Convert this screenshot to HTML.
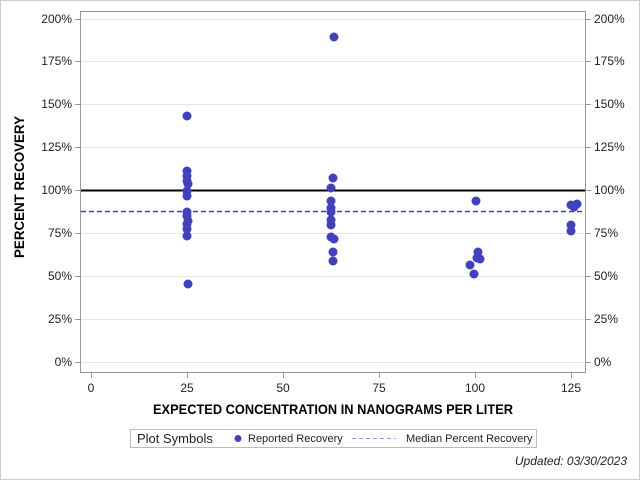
<!DOCTYPE html>
<html><head><style>body{margin:0;background:#fff}svg{display:block;font-family:"Liberation Sans",sans-serif}</style></head><body>
<svg width="640" height="480" viewBox="0 0 640 480">
<rect x="0.5" y="0.5" width="639" height="479" fill="#fff" stroke="#ccc"/>
<g stroke="#e6e6e6" stroke-width="1">
<line x1="81" x2="585" y1="362.5" y2="362.5"/><line x1="81" x2="585" y1="319.5" y2="319.5"/><line x1="81" x2="585" y1="276.5" y2="276.5"/><line x1="81" x2="585" y1="233.5" y2="233.5"/><line x1="81" x2="585" y1="147.5" y2="147.5"/><line x1="81" x2="585" y1="104.5" y2="104.5"/><line x1="81" x2="585" y1="61.5" y2="61.5"/><line x1="81" x2="585" y1="19.5" y2="19.5"/>
</g>
<rect x="80.5" y="11.5" width="505" height="361" fill="none" stroke="#999"/>
<g stroke="#999"><line x1="75" x2="80" y1="362.5" y2="362.5"/><line x1="75" x2="80" y1="319.5" y2="319.5"/><line x1="75" x2="80" y1="276.5" y2="276.5"/><line x1="75" x2="80" y1="233.5" y2="233.5"/><line x1="75" x2="80" y1="190.5" y2="190.5"/><line x1="75" x2="80" y1="147.5" y2="147.5"/><line x1="75" x2="80" y1="104.5" y2="104.5"/><line x1="75" x2="80" y1="61.5" y2="61.5"/><line x1="75" x2="80" y1="19.5" y2="19.5"/>
<line x1="586" x2="591" y1="362.5" y2="362.5"/><line x1="586" x2="591" y1="319.5" y2="319.5"/><line x1="586" x2="591" y1="276.5" y2="276.5"/><line x1="586" x2="591" y1="233.5" y2="233.5"/><line x1="586" x2="591" y1="190.5" y2="190.5"/><line x1="586" x2="591" y1="147.5" y2="147.5"/><line x1="586" x2="591" y1="104.5" y2="104.5"/><line x1="586" x2="591" y1="61.5" y2="61.5"/><line x1="586" x2="591" y1="19.5" y2="19.5"/>
<line x1="91.5" x2="91.5" y1="373" y2="378"/><line x1="187.5" x2="187.5" y1="373" y2="378"/><line x1="283.5" x2="283.5" y1="373" y2="378"/><line x1="379.5" x2="379.5" y1="373" y2="378"/><line x1="475.5" x2="475.5" y1="373" y2="378"/><line x1="571.5" x2="571.5" y1="373" y2="378"/></g>
<g font-size="12" fill="#222" text-anchor="end">
<text x="72" y="366">0%</text><text x="72" y="323">25%</text><text x="72" y="280">50%</text><text x="72" y="237">75%</text><text x="72" y="194">100%</text><text x="72" y="151">125%</text><text x="72" y="108">150%</text><text x="72" y="65">175%</text><text x="72" y="23">200%</text></g>
<g font-size="12" fill="#222">
<text x="594" y="366">0%</text><text x="594" y="323">25%</text><text x="594" y="280">50%</text><text x="594" y="237">75%</text><text x="594" y="194">100%</text><text x="594" y="151">125%</text><text x="594" y="108">150%</text><text x="594" y="65">175%</text><text x="594" y="23">200%</text></g>
<g font-size="12" fill="#222" text-anchor="middle">
<text x="91" y="392">0</text><text x="187" y="392">25</text><text x="283" y="392">50</text><text x="379" y="392">75</text><text x="475" y="392">100</text><text x="571" y="392">125</text></g>
<text x="153" y="414" font-size="14" font-weight="bold" textLength="360" lengthAdjust="spacingAndGlyphs">EXPECTED CONCENTRATION IN NANOGRAMS PER LITER</text>
<text transform="translate(24,258) rotate(-90)" font-size="14" font-weight="bold" textLength="142" lengthAdjust="spacingAndGlyphs">PERCENT RECOVERY</text>
<line x1="81" x2="585" y1="190.5" y2="190.5" stroke="#000" stroke-width="2"/>
<line x1="81" x2="585" y1="211.5" y2="211.5" stroke="#3d3dbf" stroke-width="1.5" stroke-dasharray="5,3"/>
<g fill="#4040c0">
<circle cx="187" cy="116" r="4.5"/><circle cx="187" cy="171" r="4.5"/><circle cx="187" cy="176" r="4.5"/><circle cx="187" cy="181" r="4.5"/><circle cx="188" cy="184" r="4.5"/><circle cx="187" cy="191" r="4.5"/><circle cx="187" cy="196" r="4.5"/><circle cx="187" cy="212" r="4.5"/><circle cx="187" cy="216" r="4.5"/><circle cx="188" cy="221" r="4.5"/><circle cx="187" cy="224" r="4.5"/><circle cx="187" cy="229" r="4.5"/><circle cx="187" cy="236" r="4.5"/><circle cx="188" cy="284" r="4.5"/>
<circle cx="334" cy="37" r="4.5"/><circle cx="333" cy="178" r="4.5"/><circle cx="331" cy="188" r="4.5"/><circle cx="331" cy="201" r="4.5"/><circle cx="331" cy="208" r="4.5"/><circle cx="331" cy="212" r="4.5"/><circle cx="331" cy="220" r="4.5"/><circle cx="331" cy="225" r="4.5"/><circle cx="331" cy="237" r="4.5"/><circle cx="334" cy="239" r="4.5"/><circle cx="333" cy="252" r="4.5"/><circle cx="333" cy="261" r="4.5"/>
<circle cx="476" cy="201" r="4.5"/><circle cx="478" cy="252" r="4.5"/><circle cx="477" cy="258" r="4.5"/><circle cx="480" cy="259" r="4.5"/><circle cx="470" cy="265" r="4.5"/><circle cx="474" cy="274" r="4.5"/>
<circle cx="571" cy="205" r="4.5"/><circle cx="574" cy="207" r="4.5"/><circle cx="577" cy="204" r="4.5"/><circle cx="571" cy="225" r="4.5"/><circle cx="571" cy="231" r="4.5"/>
</g>
<rect x="130.5" y="429.5" width="406" height="18" fill="#fff" stroke="#bbb"/>
<text x="137" y="443" font-size="13" fill="#222">Plot Symbols</text>
<circle cx="238" cy="438.5" r="3.5" fill="#4040c0"/>
<text x="248" y="442" font-size="11" fill="#222">Reported Recovery</text>
<line x1="352" x2="396" y1="438.5" y2="438.5" stroke="#9999ee" stroke-dasharray="4,3"/>
<text x="406" y="442" font-size="11" fill="#222">Median Percent Recovery</text>
<text x="627" y="465" font-size="12" font-style="italic" fill="#222" text-anchor="end">Updated: 03/30/2023</text>
</svg>
</body></html>
